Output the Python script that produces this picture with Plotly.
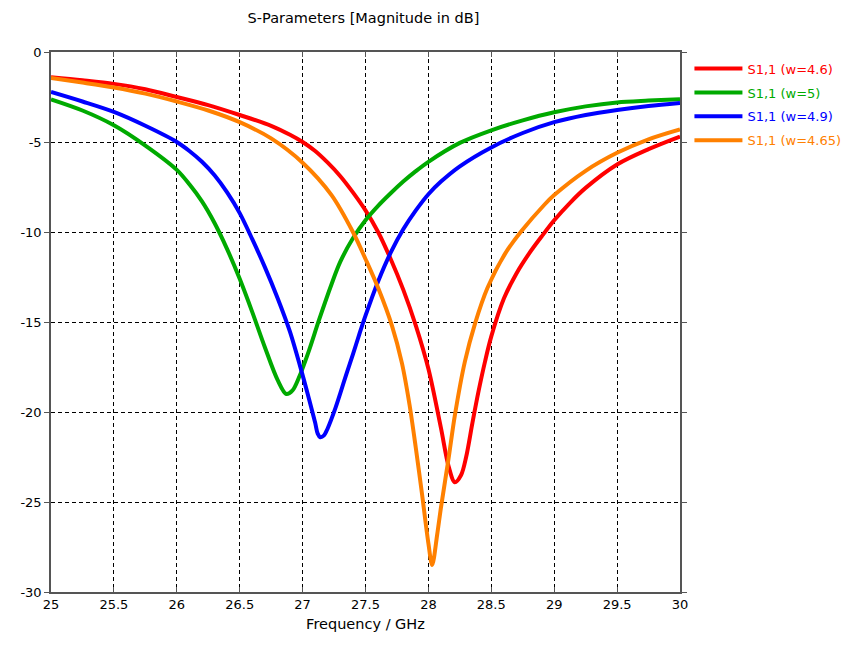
import plotly.graph_objects as go

# ---- data ----
red_f = [25, 25.25, 25.5, 25.75, 26, 26.25, 26.5, 26.75, 26.9, 27.0, 27.1, 27.2, 27.3, 27.4, 27.5,
         27.6, 27.7, 27.8, 27.9, 28.0, 28.1, 28.16, 28.21, 28.26, 28.3, 28.35, 28.4, 28.45, 28.5,
         28.6, 28.7, 28.8, 28.9, 29.0, 29.13, 29.25, 29.5, 29.75, 30]
red_db = [-1.4, -1.57, -1.77, -2.07, -2.5, -2.95, -3.5, -4.1, -4.6, -5.0, -5.5, -6.15, -6.9, -7.8, -8.8,
          -10.0, -11.5, -13.2, -15.2, -17.6, -20.9, -23.0, -23.9, -23.5, -22.5, -20.6, -18.8, -17.2, -15.8,
          -13.7, -12.3, -11.2, -10.25, -9.35, -8.35, -7.55, -6.25, -5.4, -4.7]

green_f = [25, 25.25, 25.5, 25.75, 26.0, 26.1, 26.2, 26.3, 26.4, 26.5, 26.6, 26.7, 26.8, 26.87,
           26.92, 26.97, 27.05, 27.13, 27.23, 27.3, 27.4, 27.5, 27.6, 27.7, 27.8, 27.9, 28.0, 28.25,
           28.5, 28.75, 29.0, 29.25, 29.5, 29.75, 30]
green_db = [-2.63, -3.25, -4.07, -5.2, -6.55, -7.35, -8.3, -9.5, -10.95, -12.6, -14.45, -16.4, -18.2, -19.0,
            -18.8, -18.1, -16.6, -14.9, -12.9, -11.65, -10.35, -9.35, -8.55, -7.85, -7.2, -6.62, -6.1, -5.05,
            -4.35, -3.8, -3.35, -3.02, -2.8, -2.7, -2.62]

blue_f = [25, 25.25, 25.5, 25.75, 26.0, 26.1, 26.2, 26.3, 26.4, 26.5, 26.6, 26.7, 26.8, 26.9, 27.0,
          27.05, 27.1, 27.12, 27.14, 27.17, 27.2, 27.26, 27.3, 27.35, 27.4, 27.45, 27.5, 27.6, 27.7,
          27.8, 27.9, 28.0, 28.1, 28.25, 28.5, 28.75, 29.0, 29.25, 29.5, 29.75, 30]
blue_db = [-2.22, -2.75, -3.33, -4.1, -5.0, -5.5, -6.1, -6.85, -7.8, -8.95, -10.4, -11.95, -13.65, -15.55, -17.95,
           -19.25, -20.6, -21.2, -21.4, -21.3, -20.9, -19.8, -18.95, -17.85, -16.8, -15.7, -14.65, -12.75, -11.15,
           -9.85, -8.8, -7.9, -7.2, -6.35, -5.3, -4.5, -3.9, -3.5, -3.22, -3.0, -2.83]

orange_f = [25, 25.25, 25.5, 25.75, 26, 26.25, 26.5, 26.75, 27.0, 27.23, 27.4, 27.5, 27.6, 27.71,
            27.79, 27.85, 27.9, 27.95, 28.0, 28.03, 28.07, 28.1, 28.16, 28.21, 28.29, 28.37, 28.47,
            28.61, 28.74, 28.92, 29.0, 29.25, 29.5, 29.75, 30]
orange_db = [-1.45, -1.7, -1.97, -2.31, -2.75, -3.25, -3.9, -4.8, -6.15, -7.95, -10.0, -11.5, -13.1, -15.2,
             -17.3, -19.6, -22.0, -24.6, -27.3, -28.5, -26.8, -25.3, -22.6, -20.2, -17.2, -15.1, -13.1,
             -11.2, -9.95, -8.5, -7.95, -6.6, -5.6, -4.85, -4.3]

series = [
    ("S1,1 (w=4.6)", red_f, red_db, "#ff0000"),
    ("S1,1 (w=5)", green_f, green_db, "#00aa00"),
    ("S1,1 (w=4.9)", blue_f, blue_db, "#0000ff"),
    ("S1,1 (w=4.65)", orange_f, orange_db, "#ff8000"),
]

x_ticks = [25, 25.5, 26, 26.5, 27, 27.5, 28, 28.5, 29, 29.5, 30]
y_ticks = [0, -5, -10, -15, -20, -25, -30]

FONT = "DejaVu Sans"

fig = go.Figure()
for i, (name, f, db, col) in enumerate(series):
    fig.add_trace(go.Scatter(
        x=f, y=db, mode="lines",
        name=f'<span style="color:{col}">{name}</span>',
        legendgroup=f"g{i}",
        line=dict(color=col, width=4, shape="spline", smoothing=0.9),
    ))

axis_common = dict(
    showgrid=True, gridcolor="#000000", griddash="4px,3px", gridwidth=1,
    showline=True, linecolor="#555555", linewidth=1.5, mirror="ticks",
    zeroline=False, ticklen=5, tickcolor="#555555",
    tickfont=dict(family=FONT, size=13, color="#000000"),
)

fig.update_xaxes(range=[25, 30], tickvals=x_ticks, ticktext=[f"{v:g}" for v in x_ticks],
                 ticks="inside",
                 title=dict(text="Frequency / GHz", font=dict(family=FONT, size=14.5, color="#000"),
                            standoff=8),
                 **axis_common)
fig.update_yaxes(range=[-30, 0], tickvals=y_ticks, ticktext=[f"{v:g}" for v in y_ticks],
                 ticks="outside", **axis_common)

fig.update_layout(
    width=853, height=652,
    margin=dict(l=39, r=181, t=44, b=68),
    paper_bgcolor="white", plot_bgcolor="white",
    title=dict(text="S-Parameters [Magnitude in dB]", x=(39.5 + 671.5) / 2 / 853, xanchor="center",
               y=1 - 10 / 652, yanchor="middle",
               font=dict(family=FONT, size=14.5, color="#000")),
    legend=dict(x=1.015, y=0.997, xanchor="left", yanchor="top",
                font=dict(family=FONT, size=13), tracegroupgap=4, itemwidth=48,
                bgcolor="rgba(0,0,0,0)"),
    showlegend=True,
)

fig.write_html("out.html")
